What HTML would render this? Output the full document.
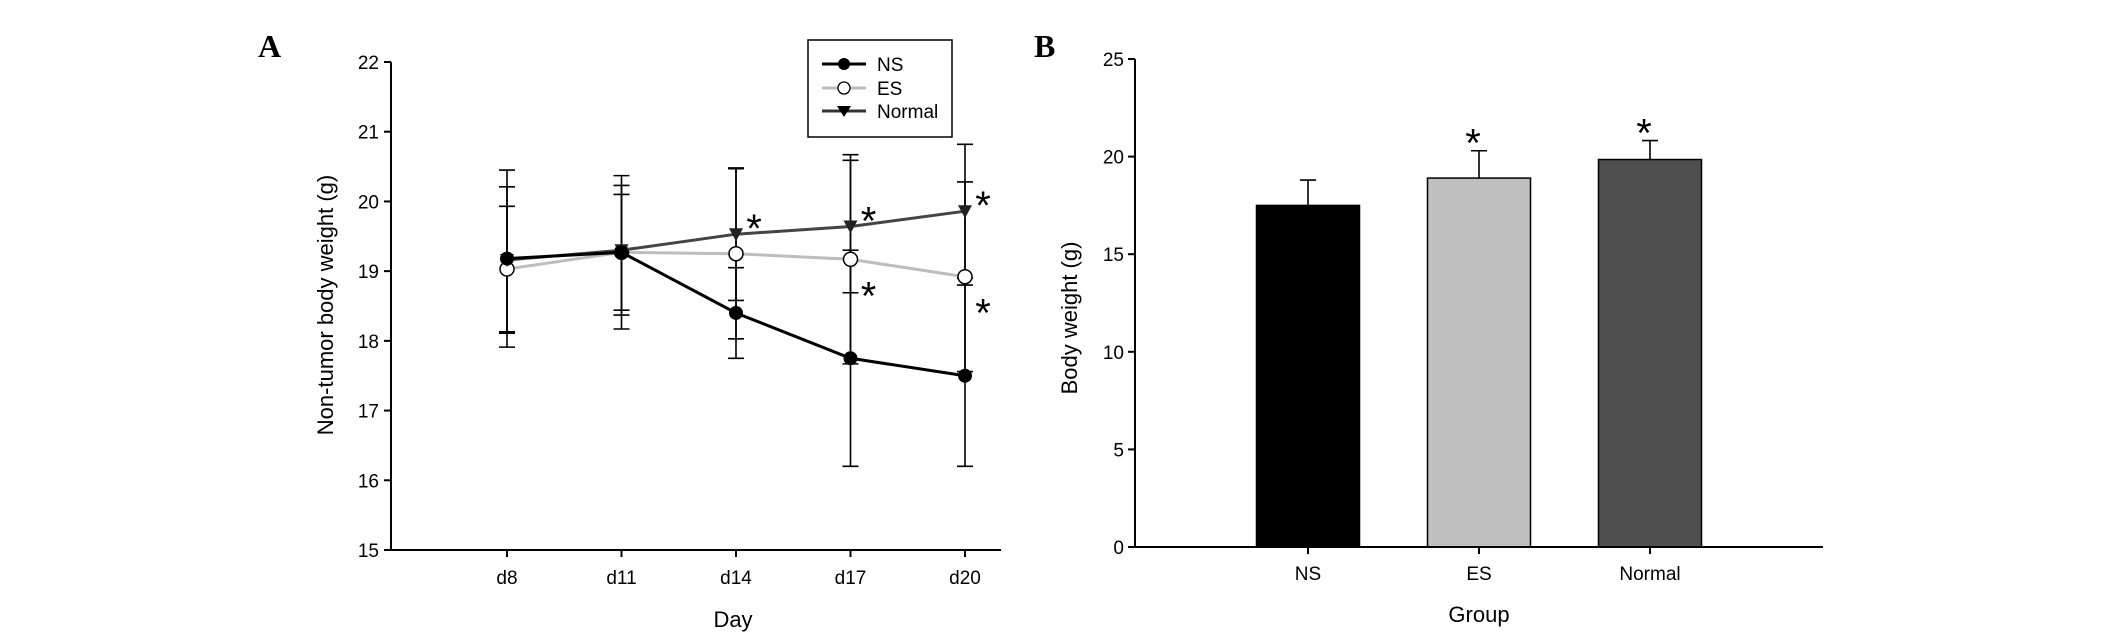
<!DOCTYPE html>
<html><head><meta charset="utf-8">
<style>
html,body{margin:0;padding:0;background:#fff;}
svg{display:block;font-family:"Liberation Sans",Arial,sans-serif;}
</style></head>
<body>
<svg id="root" width="2126" height="643" viewBox="0 0 2126 643" xmlns="http://www.w3.org/2000/svg">
<g id="chartA"></g>
<g id="chartB"></g>
</svg>
<script>
// ---- Panel A data ----
const daysA = ["d8","d11","d14","d17","d20"];
const nsVals = [19.18, 19.27, 18.40, 17.75, 17.50];
const nsErr = [1.27, 1.10, 0.65, 1.55, 1.30];
const esVals = [19.03, 19.27, 19.25, 19.17, 18.92];
const esErr = [0.90, 0.83, 1.22, 1.50, 1.36];
const normalVals = [19.16, 19.30, 19.53, 19.64, 19.86];
const normalErr = [1.05, 0.93, 0.95, 0.95, 0.96];
const starsNormal = [false, false, true, true, true];
const starsES = [false, false, false, true, true];
const yTicksA = [15,16,17,18,19,20,21,22];
// ---- Panel B data ----
const groupsB = ["NS","ES","Normal"];
const barVals = [17.5, 18.9, 19.85];
const barErr = [1.3, 1.4, 0.97];
const starsB = [false, true, true];
const yTicksB = [0,5,10,15,20,25];

const NS="http://www.w3.org/2000/svg";
function mk(parent, tag, attrs, text){
  const e=document.createElementNS(NS,tag);
  for(const k in attrs) e.setAttribute(k,attrs[k]);
  if(text!==undefined) e.textContent=text;
  parent.appendChild(e); return e;
}

// ===== Panel A =====
const A=document.getElementById('chartA');
const ax0=391, ax1=1001, ayTop=62, ayBot=550;
const yA=v=>ayBot-(v-15)/(22-15)*(ayBot-ayTop);
const xPosA=[507,622,736,850,965];
const xA=i=>xPosA[0]+i*(xPosA[4]-xPosA[0])/(daysA.length-1);

let t=mk(A,'text',{x:258,y:57,'font-family':'"Liberation Serif",serif','font-weight':'bold','font-size':32},'A');



let axl=mk(A,'path',{d:`M${ax0},${ayTop}V${ayBot}H${ax1}`,stroke:'#000','stroke-width':2,fill:'none'});


yTicksA.forEach(v=>{
  const y=yA(v);
  mk(A,'line',{x1:ax0-7,y1:y,x2:ax0,y2:y,stroke:'#000','stroke-width':2});
  const tl=mk(A,'text',{x:ax0-12,y:y+7,'text-anchor':'end','font-size':19},String(v));
  
  
});
daysA.forEach((d,i)=>{
  const x=xA(i);
  mk(A,'line',{x1:x,y1:ayBot,x2:x,y2:ayBot+7,stroke:'#000','stroke-width':2});
  const tl=mk(A,'text',{x:x,y:584,'text-anchor':'middle','font-size':19},d);
  
  
});
t=mk(A,'text',{x:733,y:627,'text-anchor':'middle','font-size':22},'Day');


t=mk(A,'text',{x:0,y:0,'text-anchor':'middle','font-size':22,transform:'translate(333,305) rotate(-90)','xml:space':'preserve'},'Non-tumor  body  weight (g)');



function errbars(vals,err,name){
  vals.forEach((v,i)=>{
    const x=xA(i),y1=yA(v+err[i]),y2=yA(v-err[i]);
    const g=mk(A,'path',{d:`M${x},${y1}V${y2}M${x-8},${y1}H${x+8}M${x-8},${y2}H${x+8}`,stroke:'#000','stroke-width':1.6,fill:'none'});
    
    
  });
}
errbars(nsVals,nsErr,'ns');errbars(esVals,esErr,'es');errbars(normalVals,normalErr,'normal');

function series(vals,color,name,marker){
  const pts=vals.map((v,i)=>`${xA(i)},${yA(v)}`).join(' ');
  const l=mk(A,'polyline',{points:pts,stroke:color,'stroke-width':3,fill:'none'});
  
  
  vals.forEach((v,i)=>{
    const x=xA(i),y=yA(v);let m;
    if(marker==='filled') m=mk(A,'circle',{cx:x,cy:y,r:7,fill:'#000'});
    else if(marker==='open') m=mk(A,'circle',{cx:x,cy:y,r:7,fill:'#fff',stroke:'#000','stroke-width':1.5});
    else m=mk(A,'path',{d:`M${x-7},${y-6}H${x+7}L${x},${y+7}Z`,fill:'#222'});
    
    
  });
}
series(esVals,'#bdbdbd','es','open');
series(normalVals,'#444','normal','tri');
series(nsVals,'#000','ns','filled');

starsNormal.forEach((s,i)=>{ if(!s)return;
  const st=mk(A,'text',{x:xA(i)+18,y:yA(normalVals[i])+8,'font-size':40,'text-anchor':'middle'},'*');
  
  
});
starsES.forEach((s,i)=>{ if(!s)return;
  const st=mk(A,'text',{x:xA(i)+18,y:yA(esVals[i])+50,'font-size':40,'text-anchor':'middle'},'*');
  
  
});

// legend
const lg=mk(A,'g',{});


mk(lg,'rect',{x:808,y:40,width:144,height:97,fill:'#fff',stroke:'#000','stroke-width':1.5});
[['NS','#000','filled',64],['ES','#bdbdbd','open',88],['Normal','#333','tri',111]].forEach(([lab,c,m,y])=>{
  const e=mk(lg,'g',{});
  
  
  mk(e,'line',{x1:822,y1:y,x2:866,y2:y,stroke:c,'stroke-width':3});
  if(m==='filled') mk(e,'circle',{cx:844,cy:y,r:6,fill:'#000'});
  else if(m==='open') mk(e,'circle',{cx:844,cy:y,r:6,fill:'#fff',stroke:'#000','stroke-width':1.3});
  else mk(e,'path',{d:`M837,${y-5}H851L844,${y+6}Z`,fill:'#000'});
  mk(e,'text',{x:877,y:y+7,'font-size':19},lab);
});

// ===== Panel B =====
const B=document.getElementById('chartB');
const bx0=1135,bx1=1823,byTop=59,byBot=547;
const yB=v=>byBot-v/25*(byBot-byTop);
const bCenters=[1308,1479,1650];
const xB=i=>bCenters[0]+i*(bCenters[2]-bCenters[0])/(groupsB.length-1);
const barW=103;
const colors=['#000','#c0c0c0','#4f4f4f'];

t=mk(B,'text',{x:1034,y:57,'font-family':'"Liberation Serif",serif','font-weight':'bold','font-size':32},'B');



groupsB.forEach((g,i)=>{
  const x=xB(i),v=barVals[i],top=yB(v),et=yB(v+barErr[i]);
  const eb=mk(B,'path',{d:`M${x},${top}V${et}M${x-8},${et}H${x+8}`,stroke:'#000','stroke-width':1.6,fill:'none'});
  
  
  const r=mk(B,'rect',{x:x-barW/2,y:top,width:barW,height:byBot-top,fill:colors[i],stroke:'#000','stroke-width':1.5});
  
  
  if(starsB[i]){
    const st=mk(B,'text',{x:x-6,y:et+6,'font-size':40,'text-anchor':'middle'},'*');
    
    
  }
  mk(B,'line',{x1:x,y1:byBot,x2:x,y2:byBot+7,stroke:'#000','stroke-width':2});
  const tl=mk(B,'text',{x:x,y:580,'text-anchor':'middle','font-size':19},g);
  
  
});
axl=mk(B,'path',{d:`M${bx0},${byTop}V${byBot}H${bx1}`,stroke:'#000','stroke-width':2,fill:'none'});


yTicksB.forEach(v=>{
  const y=yB(v);
  mk(B,'line',{x1:bx0-7,y1:y,x2:bx0,y2:y,stroke:'#000','stroke-width':2});
  const tl=mk(B,'text',{x:bx0-11,y:y+7,'text-anchor':'end','font-size':19},String(v));
  
  
});
t=mk(B,'text',{x:1479,y:622,'text-anchor':'middle','font-size':22},'Group');


t=mk(B,'text',{x:0,y:0,'text-anchor':'middle','font-size':22,transform:'translate(1077,318) rotate(-90)','xml:space':'preserve'},'Body  weight (g)');


</script>
</body></html>
